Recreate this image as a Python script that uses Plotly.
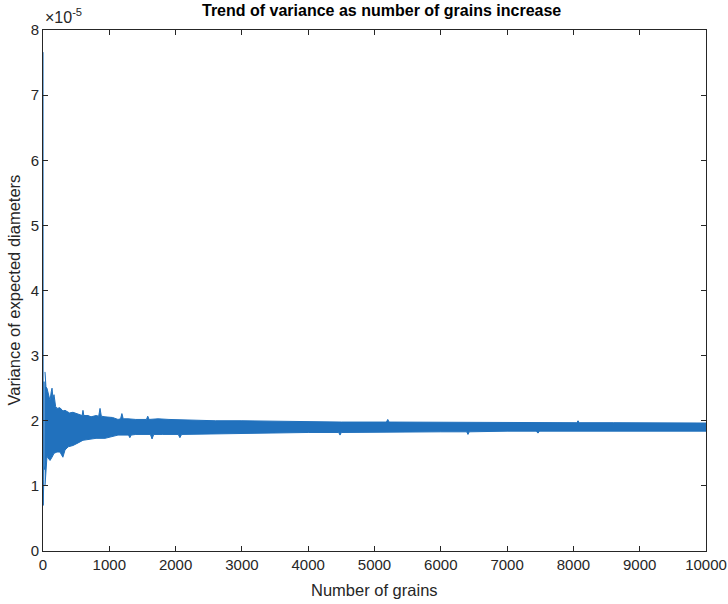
import plotly.graph_objects as go

# Variance of expected diameters (units of 1e-5) vs number of grains.
# The first handful of samples swing widely before the estimate settles.
start_grains = [1, 2, 3, 4, 5, 6, 8, 10, 12, 15, 20, 25, 30]
start_var = [7.66, 3.2, 0.7, 2.5, 1.0, 3.15, 1.3, 2.7, 1.1, 2.6, 1.25, 2.5, 1.3]

# Upper edge of the fluctuation band
upper_grains = [30, 45, 60, 90, 106, 125, 136, 150, 166, 190, 211, 256, 300, 332,
                400, 452, 530, 590, 603, 616, 680, 724, 800, 840, 860, 880, 935,
                1050, 1131, 1170, 1190, 1210, 1282, 1400, 1560, 1580, 1600, 1735,
                1900, 2200, 2600, 3000, 3500, 4000, 4500, 5180, 5200, 5220, 5700,
                6500, 7200, 8050, 8070, 8090, 8600, 9300, 10000]
upper_var = [2.75, 2.52, 2.5, 2.35, 2.31, 2.45, 2.5, 2.35, 2.4, 2.22, 2.19, 2.2, 2.15, 2.16,
             2.12, 2.13, 2.1, 2.08, 2.16, 2.08, 2.08, 2.06, 2.08, 2.07, 2.19, 2.07, 2.06,
             2.05, 2.02, 2.03, 2.11, 2.03, 2.03, 2.02, 2.02, 2.07, 2.02, 2.03,
             2.02, 2.01, 2.0, 2.0, 1.99, 1.99, 1.98, 1.98, 2.02, 1.98, 1.98,
             1.98, 1.97, 1.97, 2.0, 1.97, 1.97, 1.965, 1.965]

# Lower edge of the fluctuation band
lower_grains = [30, 45, 60, 106, 136, 166, 211, 256, 300, 332, 380, 452, 530, 603,
                700, 800, 935, 1050, 1131, 1290, 1310, 1330, 1400, 1620, 1645, 1670,
                1800, 2040, 2065, 2090, 2500, 3000, 3500, 4000, 4460, 4480, 4500,
                5000, 5500, 6000, 6390, 6410, 6430, 7000, 7440, 7465, 7490, 8000,
                9000, 10000]
lower_var = [1.0, 1.24, 1.45, 1.39, 1.44, 1.5, 1.52, 1.52, 1.44, 1.55, 1.6, 1.62, 1.66, 1.7,
             1.71, 1.73, 1.73, 1.76, 1.78, 1.78, 1.74, 1.78, 1.79, 1.79, 1.72, 1.79,
             1.79, 1.79, 1.74, 1.79, 1.8, 1.81, 1.81, 1.82, 1.82, 1.78, 1.82,
             1.83, 1.83, 1.83, 1.83, 1.79, 1.83, 1.84, 1.84, 1.81, 1.84, 1.84,
             1.84, 1.84]

x_ticks = [0, 1000, 2000, 3000, 4000, 5000, 6000, 7000, 8000, 9000, 10000]
y_ticks = [0, 1, 2, 3, 4, 5, 6, 7, 8]

BLUE = "#2171BD"
AXIS = "#262626"
FONT = "Liberation Sans, Arial, Helvetica, sans-serif"

band_x = upper_grains + lower_grains[::-1]
band_y = upper_var + lower_var[::-1]

fig = go.Figure()
fig.add_trace(go.Scatter(
    x=band_x, y=band_y, mode="lines", fill="toself",
    fillcolor=BLUE, line=dict(color=BLUE, width=1), hoverinfo="skip",
    showlegend=False,
))
fig.add_trace(go.Scatter(
    x=start_grains, y=start_var, mode="lines",
    line=dict(color=BLUE, width=1), showlegend=False,
))

axis_common = dict(
    showgrid=False, zeroline=False, showline=True, linecolor=AXIS, linewidth=1,
    mirror="ticks", ticks="inside", ticklen=5, tickcolor=AXIS, tickwidth=1,
    tickfont=dict(family=FONT, size=15, color=AXIS), automargin=False,
)

fig.update_layout(
    width=728, height=604,
    margin=dict(l=43, r=22, t=30, b=53),
    paper_bgcolor="white", plot_bgcolor="white",
    font=dict(family=FONT, color=AXIS),
    xaxis=dict(range=[0, 10000], tickvals=x_ticks,
               ticktext=[str(v) for v in x_ticks], **axis_common),
    yaxis=dict(range=[0, 8], tickvals=y_ticks,
               ticktext=[str(v) for v in y_ticks], **axis_common),
    annotations=[
        dict(text="<b>Trend of variance as number of grains increase</b>",
             xref="paper", yref="paper", x=0.51, y=1, yshift=20,
             xanchor="center", yanchor="middle", showarrow=False,
             font=dict(family=FONT, size=16, color="black")),
        dict(text="×10<sup>-5</sup>", xref="paper", yref="paper", x=0, y=1,
             xshift=0, yshift=14, xanchor="left", yanchor="middle",
             showarrow=False, font=dict(family=FONT, size=16, color=AXIS)),
        dict(text="Number of grains", xref="paper", yref="paper", x=0.5, y=0,
             yshift=-39, xanchor="center", yanchor="middle", showarrow=False,
             font=dict(family=FONT, size=16.5, color=AXIS)),
        dict(text="Variance of expected diameters", xref="paper", yref="paper",
             x=0, y=0.5, xshift=-30, xanchor="center", yanchor="middle",
             textangle=-90, showarrow=False,
             font=dict(family=FONT, size=16.5, color=AXIS)),
    ],
)

fig.write_html("out.html")
